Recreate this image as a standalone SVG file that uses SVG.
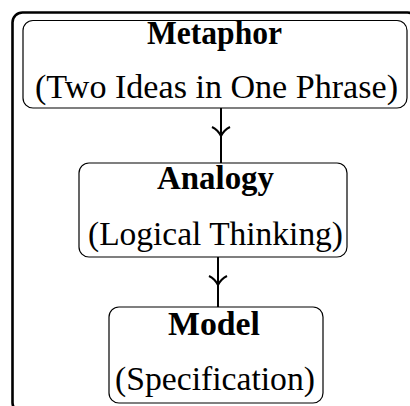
<svg xmlns="http://www.w3.org/2000/svg" width="410" height="406" viewBox="0 0 410 406">
<style>
.frame{fill:none;stroke:#000;stroke-width:2.6}
.box{fill:#fff;stroke:#000;stroke-width:1.2}
.t{font-family:"Liberation Serif","Times New Roman",serif;font-size:33px;fill:#000;text-anchor:middle}
.b{font-weight:bold}
.conn{fill:none;stroke:#000;stroke-width:2}
</style>
<rect width="410" height="406" fill="#fff"/>
<rect class="frame" x="12.5" y="12.5" width="405" height="400" rx="10"/>
<g id="connectors">
<line class="conn" x1="221" y1="108" x2="221" y2="163"/>
<path class="conn" d="M212,127 Q218,130 221,136 Q224,130 230,127"/>
<line class="conn" x1="218" y1="257" x2="218" y2="307"/>
<path class="conn" d="M209,276 Q215,279 218,285 Q221,279 227,276"/>
</g>
<g id="metaphor">
<rect class="box" x="23" y="20.5" width="384" height="87.5" rx="10"/>
<text class="t b" x="214.5" y="44" textLength="135" lengthAdjust="spacingAndGlyphs">Metaphor</text>
<text class="t" x="216.5" y="98" textLength="363" lengthAdjust="spacingAndGlyphs">(Two Ideas in One Phrase)</text>
</g>
<g id="analogy">
<rect class="box" x="79" y="163" width="268" height="94" rx="10"/>
<text class="t b" x="215.5" y="189" textLength="117" lengthAdjust="spacingAndGlyphs">Analogy</text>
<text class="t" x="215.5" y="245" textLength="255" lengthAdjust="spacingAndGlyphs">(Logical Thinking)</text>
</g>
<g id="model">
<rect class="box" x="109" y="307" width="214" height="96" rx="10"/>
<text class="t b" x="214" y="335" textLength="92" lengthAdjust="spacingAndGlyphs">Model</text>
<text class="t" x="215" y="390" textLength="200" lengthAdjust="spacingAndGlyphs">(Specification)</text>
</g>
</svg>
